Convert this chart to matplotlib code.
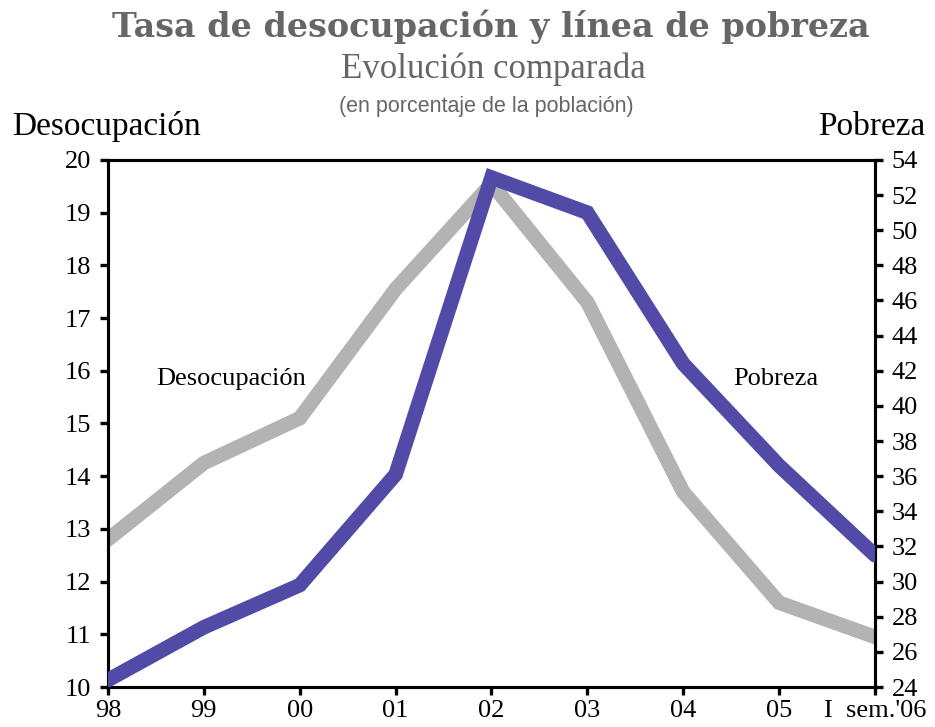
import matplotlib
matplotlib.use("Agg")
import matplotlib.pyplot as plt

years = ["98", "99", "00", "01", "02", "03", "04", "05", "I  sem.'06"]
desocupacion = [12.8, 14.25, 15.1, 17.55, 19.55, 17.3, 13.7, 11.6, 10.95]
pobreza = [24.4, 27.4, 29.8, 36.1, 53.0, 51.0, 42.4, 36.6, 31.5]
left_ticks = list(range(10, 21))
right_ticks = list(range(24, 55, 2))

GRAY = "#b3b3b3"
BLUE = "#514aa6"
TXT = "#666666"
serif = ["Liberation Serif", "DejaVu Serif"]

fig = plt.figure(figsize=(9.35, 7.27), dpi=100)
ax = fig.add_axes([0.1155, 0.055, 0.8203, 0.725])
ax2 = ax.twinx()

x = list(range(len(years)))
ax.plot(x, desocupacion, color=GRAY, lw=10.5, solid_capstyle="round", solid_joinstyle="miter", zorder=2)
ax2.plot(x, pobreza, color=BLUE, lw=10.5, solid_capstyle="round", solid_joinstyle="miter", zorder=3)

ax.set_xlim(0, len(years) - 1)
ax.set_ylim(10, 20)
ax2.set_ylim(24, 54)
ax.set_xticks(x)
ax.set_xticklabels(years)
ax.set_yticks(left_ticks)
ax2.set_yticks(right_ticks)

for a in (ax, ax2):
    for s in a.spines.values():
        s.set_linewidth(2.2)
    a.tick_params(direction="out", length=6, width=2.4, labelsize=19)
    for lab in a.get_xticklabels() + a.get_yticklabels():
        lab.set_family(serif)
ax.tick_params(axis="x", pad=3)
ax.tick_params(axis="y", pad=6)
ax2.tick_params(axis="y", pad=6)

fig.text(0.525, 0.963, "Tasa de desocupación y línea de pobreza", ha="center", va="center",
         fontsize=24, fontweight="bold", color=TXT, family=["DejaVu Serif"])
fig.text(0.528, 0.905, "Evolución comparada", ha="center", va="center",
         fontsize=25, color=TXT, family=serif)
fig.text(0.52, 0.853, "(en porcentaje de la población)", ha="center", va="center",
         fontsize=15.5, color=TXT, family=["Liberation Sans Narrow", "Liberation Sans", "DejaVu Sans"])
fig.text(0.013, 0.826, "Desocupación", ha="left", va="center", fontsize=24, family=serif)
fig.text(0.99, 0.826, "Pobreza", ha="right", va="center", fontsize=24, family=serif)

ax.text(0.5, 15.85, "Desocupación", ha="left", va="center", fontsize=19, family=serif)
ax.text(6.52, 15.85, "Pobreza", ha="left", va="center", fontsize=19, family=serif)

fig.savefig("out.png", dpi=100)
